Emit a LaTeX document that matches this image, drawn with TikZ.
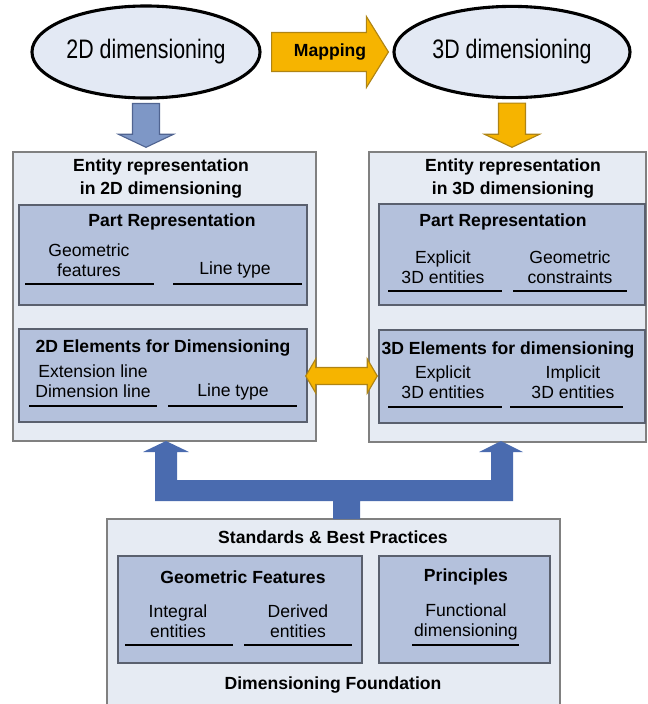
\documentclass[tikz,border=0pt]{standalone}
\usepackage{fontspec}
\setmainfont{Liberation Sans}
\usepackage{graphicx}
\usetikzlibrary{shapes.geometric,fit,calc,positioning}

\definecolor{panelfill}{RGB}{230,235,243}
\definecolor{panelline}{RGB}{128,128,128}
\definecolor{boxfill}{RGB}{180,193,220}
\definecolor{boxline}{RGB}{90,96,110}
\definecolor{ellfill}{RGB}{227,233,244}
\definecolor{mapfill}{RGB}{246,180,0}
\definecolor{mapline}{RGB}{175,132,20}
\definecolor{liteblue}{RGB}{126,151,198}
\definecolor{liteblueline}{RGB}{80,100,145}
\definecolor{forkblue}{RGB}{74,107,175}

\tikzset{
  panel/.style={draw=panelline, fill=panelfill, line width=1pt, inner sep=0pt},
  subbox/.style={draw=boxline, fill=boxfill, line width=1pt, inner sep=0pt},
  bubble/.style={ellipse, draw=black, line width=2.2pt, fill=ellfill, inner sep=0pt,
    font=\fontsize{19}{22}\selectfont},
  head/.style={font=\fontsize{12.5}{16.3}\selectfont\bfseries, align=center, inner sep=0pt},
  item/.style={font=\fontsize{12.5}{14.2}\selectfont, align=center, inner sep=0pt},
  uline/.style={line width=2.1pt},
  orangeblock/.style={fill=mapfill, draw=mapline, line width=0.8pt, line join=miter},
  blueblock/.style={fill=liteblue, draw=liteblueline, line width=0.8pt, line join=miter},
}

% fat arrow pointing down: style, top of shaft, tip
\newcommand\downblock[3]{%
  \filldraw[#1] ($(#2)+(-13.5,0)$) -- ($(#2)+(13.5,0)$) -- ($(#3)+(13.5,-13)$)
    -- ($(#3)+(27.5,-13)$) -- (#3) -- ($(#3)+(-27.5,-13)$) -- ($(#3)+(-13.5,-13)$) -- cycle;}

\begin{document}
\begin{tikzpicture}[x=0.025cm, y=-0.025cm]
\useasboundingbox (0,0) rectangle (647,704);
\clip (0,0) rectangle (647,704);

% the two dimensioning worlds
\node[bubble, minimum width=5.7cm, minimum height=2.3cm] (dim2d) at (146,52)
  {\scalebox{0.8}[1]{2D dimensioning}};
\node[bubble, minimum width=5.9cm, minimum height=2.28cm] (dim3d) at (512,52)
  {\scalebox{0.8}[1]{3D dimensioning}};

% entity panels
\node[panel, fit={(13,152) (316,441)}] (ent2d) {};
\node[panel, fit={(369,152) (646,442)}] (ent3d) {};

\node[subbox, fit={(19,205) (307,305)}] (part2d) {};
\node[subbox, fit={(19,329) (307,422)}] (elem2d) {};
\node[subbox, fit={(379,204) (645,305)}] (part3d) {};
\node[subbox, fit={(379,330) (645,423)}] (elem3d) {};

\node[head] (ttl2d) at (161,178.5) {Entity representation\\in 2D dimensioning};
\node[head] (ttl3d) at (513,178.5) {Entity representation\\in 3D dimensioning};

% 2D side
\node[head] at (172,222) {Part Representation};
\node[item] at (89,260) {Geometric\\features};
\node[item] at (235,270) {Line type};
\draw[uline] (25,284) -- (154,284);
\draw[uline] (173,284) -- (302,284);

\node[head] at (163,348) {2D Elements for Dimensioning};
\node[item] at (93,381) {Extension line\\Dimension line};
\node[item] at (233,392) {Line type};
\draw[uline] (29,406) -- (157,406);
\draw[uline] (168,406) -- (297,406);

% 3D side
\node[head] at (503,222) {Part Representation};
\node[item] at (443,267) {Explicit\\3D entities};
\node[item] at (570,267) {Geometric\\constraints};
\draw[uline] (388,291) -- (502,291);
\draw[uline] (513,291) -- (627,291);

\node[head] at (508,350) {3D Elements for dimensioning};
\node[item] at (443,382.5) {Explicit\\3D entities};
\node[item] at (573,382.5) {Implicit\\3D entities};
\draw[uline] (388,407) -- (502,407);
\draw[uline] (510,407) -- (623,407);

% foundation panel
\node[panel, fit={(107,519) (560,712)}] (found) {};
\node[subbox, fit={(118,556) (362,663)}] (geofeat) {};
\node[subbox, fit={(379,556) (550,663)}] (princ) {};

\node[head] at (333,537) {Standards \& Best Practices};
\node[head] at (243,577) {Geometric Features};
\node[head] at (466,577) {Principles};
\node[item] at (178,621.5) {Integral\\entities};
\node[item] at (298,621.5) {Derived\\entities};
\node[item] at (466,621.5) {Functional\\dimensioning};
\draw[uline] (125,645) -- (233,645);
\draw[uline] (244,645) -- (352,645);
\draw[uline] (412,645) -- (519,645);
\node[head] at (333,685) {Dimensioning Foundation};

% block arrows
\coordinate (m0) at ($(dim2d.east)+(10,0)$);
\coordinate (m1) at ($(dim3d.west)+(-4,0)$);
\filldraw[orangeblock] ($(m0)+(0,-19.5)$) -- ($(m1)+(-22,-19.5)$) -- ($(m1)+(-22,-35.5)$)
  -- (m1) -- ($(m1)+(-22,35.5)$) -- ($(m1)+(-22,19.5)$) -- ($(m0)+(0,19.5)$) -- cycle;
\node[font=\fontsize{12.5}{14}\selectfont\bfseries] (map) at ($(m0)!0.5!(m1)$) {Mapping};

\coordinate (a2top) at ($(dim2d.south)+(0,4)$);
\coordinate (a2tip) at ($(dim2d.south |- ent2d.north)+(0,-4)$);
\downblock{blueblock}{a2top}{a2tip}
\coordinate (a3top) at ($(dim3d.south)+(0,4)$);
\coordinate (a3tip) at ($(dim3d.south |- ent3d.north)+(0,-4)$);
\downblock{orangeblock}{a3top}{a3tip}

\coordinate (d0) at ($(elem2d.east)+(-2,0.5)$);
\coordinate (d1) at ($(elem2d.east -| elem3d.west)+(-1,0.5)$);
\filldraw[orangeblock] (d0) -- ($(d0)+(10,-17)$) -- ($(d0)+(10,-8.5)$) -- ($(d1)+(-10,-8.5)$)
  -- ($(d1)+(-10,-17)$) -- (d1) -- ($(d1)+(-10,17)$) -- ($(d1)+(-10,8.5)$)
  -- ($(d0)+(10,8.5)$) -- ($(d0)+(10,17)$) -- cycle;

% fork from the foundation up to both panels
\fill[forkblue] (333,519) -- (333,501) -- (155,501) -- (155,452) -- (143,452) -- (166,441)
  -- (189,452) -- (177,452) -- (177,480) -- (491,480) -- (491,452) -- (479,452)
  -- (501,441) -- (523,452) -- (513,452) -- (513,501) -- (360,501) -- (360,519) -- cycle;

\end{tikzpicture}
\end{document}
